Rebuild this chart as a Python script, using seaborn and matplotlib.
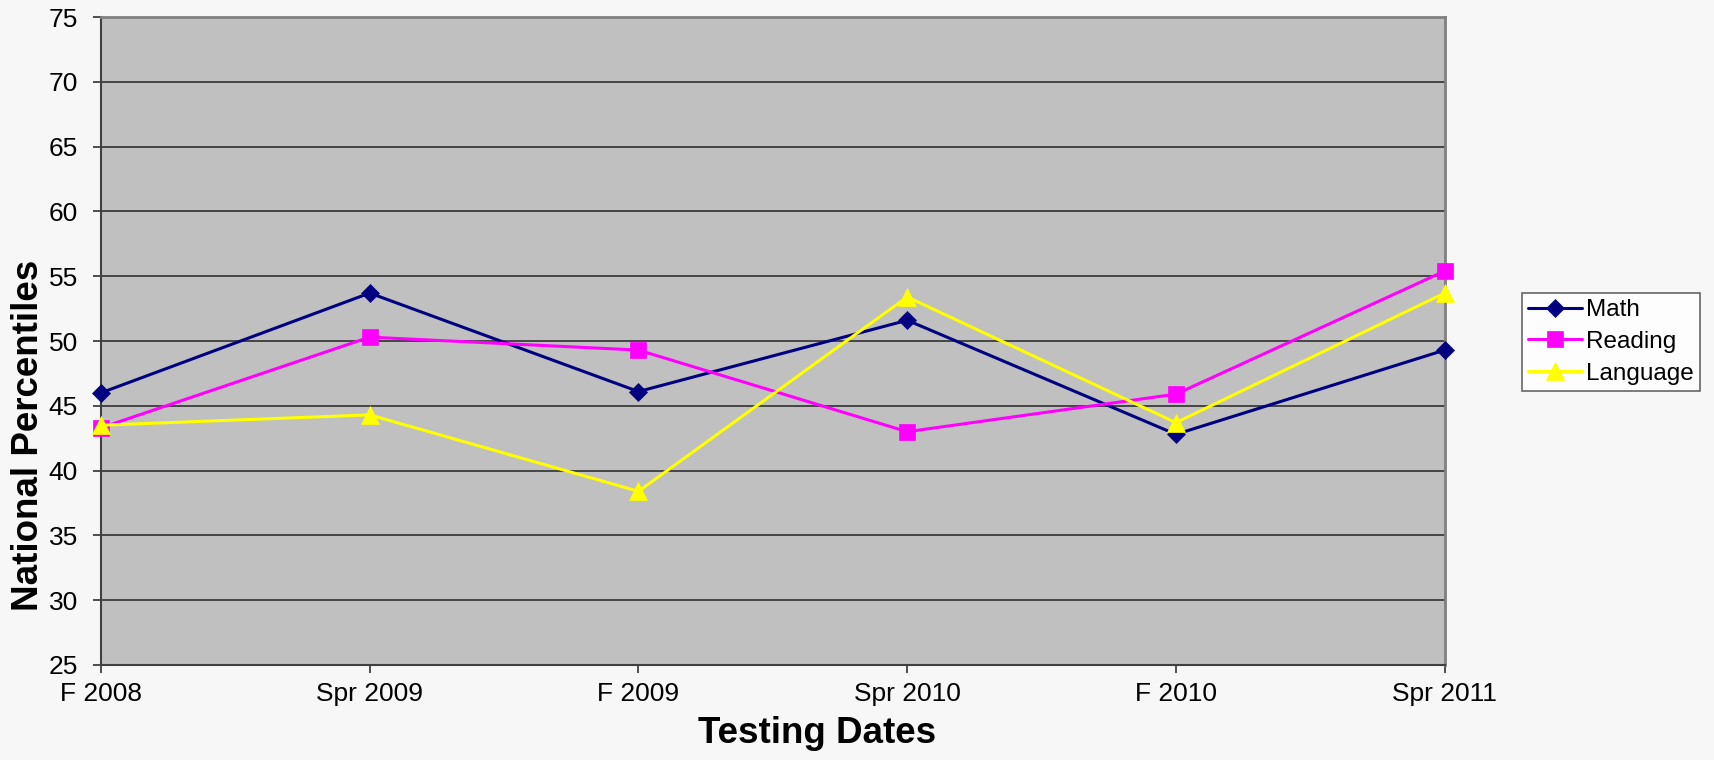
import matplotlib
matplotlib.use("Agg")
import matplotlib.pyplot as plt
import seaborn as sns
import pandas as pd

dates = ["F 2008", "Spr 2009", "F 2009", "Spr 2010", "F 2010", "Spr 2011"]
math_vals = [46.0, 53.7, 46.1, 51.6, 42.8, 49.3]
reading_vals = [43.3, 50.3, 49.3, 43.0, 45.9, 55.4]
language_vals = [43.5, 44.3, 38.4, 53.4, 43.7, 53.7]
yticks = [25, 30, 35, 40, 45, 50, 55, 60, 65, 70, 75]

sns.set_theme(style="white")
plt.rcParams['font.family'] = ['Liberation Sans', 'DejaVu Sans']
plt.rcParams['text.color'] = 'black'
plt.rcParams['axes.labelcolor'] = 'black'
plt.rcParams['xtick.color'] = 'black'
plt.rcParams['ytick.color'] = 'black'

fig = plt.figure(figsize=(17.14, 7.6), dpi=100)
fig.patch.set_facecolor("#F7F7F7")
ax = fig.add_axes([0.0589, 0.125, 0.784, 0.8526])
ax.set_facecolor("#C0C0C0")

series = [
    ("Math", math_vals, "#000080", "D", 9.5),
    ("Reading", reading_vals, "#FF00FF", "s", 12),
    ("Language", language_vals, "#FFFF00", "^", 13),
]
pos = list(range(len(dates)))
for name, vals, col, mk, ms in series:
    df = pd.DataFrame({"x": pos, "y": vals})
    sns.lineplot(data=df, x="x", y="y", ax=ax, color=col, marker=mk,
                 markersize=ms, markeredgecolor=col, markeredgewidth=0.5,
                 linewidth=2.2, label=name, clip_on=False, zorder=3)

ax.set_xlim(0, len(dates) - 1)
ax.set_ylim(25, 75)
ax.set_yticks(yticks)
ax.set_xticks(pos)
ax.set_xticklabels(dates)
ax.yaxis.grid(True, color="#303030", linewidth=1.2)
ax.xaxis.grid(False)
ax.set_axisbelow(True)

ax.tick_params(axis="both", which="both", direction="out", length=5.5, width=1.3,
               color="#404040", labelcolor="black", labelsize=19,
               left=True, bottom=True)
ax.tick_params(axis="x", pad=7)
ax.tick_params(axis="y", pad=11)
for s in ["left", "bottom"]:
    ax.spines[s].set_color("#404040")
    ax.spines[s].set_linewidth(1.5)
for s in ["top", "right"]:
    ax.spines[s].set_color("#808080")
    ax.spines[s].set_linewidth(2)

ax.set_xlabel("Testing Dates", fontsize=26.5, fontweight="bold", color="black")
ax.set_ylabel("National Percentiles", fontsize=26.5, fontweight="bold", color="black")
ax.xaxis.set_label_coords(0.533, -0.079)
ax.yaxis.set_label_coords(-0.041, 0.355)

ax.get_legend().remove()
handles, labels = ax.get_legend_handles_labels()
leg = fig.legend(handles, labels, loc="upper left",
                 bbox_to_anchor=(1522 / 1714, 1 - 293 / 760),
                 fontsize=17.5, frameon=True, fancybox=False, borderpad=0.25,
                 handlelength=2.2, handletextpad=0.2, labelspacing=0.4,
                 borderaxespad=0)
leg.get_frame().set_edgecolor("#404040")
leg.get_frame().set_facecolor("white")
leg.get_frame().set_linewidth(1.2)
for t in leg.get_texts():
    t.set_color("black")

fig.savefig("out.png", dpi=100, facecolor=fig.get_facecolor())
